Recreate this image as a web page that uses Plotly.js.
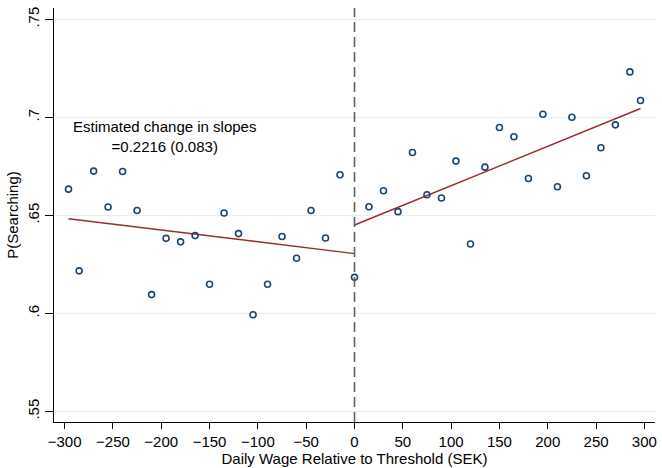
<!DOCTYPE html>
<html>
<head>
<meta charset="utf-8">
<script src="https://cdn.plot.ly/plotly-3.0.1.min.js"></script>
<style>html,body{margin:0;padding:0;background:#fff;}#chart{width:662px;height:468px;}</style>
</head>
<body>
<div id="chart"></div>
<script>
// Binned scatter: daily wage relative to threshold (SEK) vs P(Searching)
const binX = [-296, -285, -270, -255, -240, -225, -210, -195, -180, -165, -150, -135, -120, -105, -90, -75, -60, -45, -30, -15, 0,
              15, 30, 45, 60, 75, 90, 105, 120, 135, 150, 165, 180, 195, 210, 225, 240, 255, 270, 285, 296];
const binY = [0.6634, 0.6217, 0.6726, 0.6543, 0.6724, 0.6525, 0.6096, 0.6383, 0.6365, 0.6397, 0.6149, 0.6512, 0.6407, 0.5993, 0.6149, 0.6392, 0.6281, 0.6525, 0.6385, 0.6707, 0.6184,
              0.6544, 0.6626, 0.6519, 0.6821, 0.6605, 0.6589, 0.6777, 0.6354, 0.6746, 0.6948, 0.6901, 0.6688, 0.7016, 0.6646, 0.7001, 0.6702, 0.6845, 0.6962, 0.7232, 0.7086];

// Fitted lines on each side of the threshold
const fitLeftX = [-296, 0];
const fitLeftY = [0.6483, 0.6305];
const fitRightX = [0, 296];
const fitRightY = [0.6451, 0.7045];

const threshold = 0;

const xTickVals = [-300, -250, -200, -150, -100, -50, 0, 50, 100, 150, 200, 250, 300];
const xTickText = ["\u2212300", "\u2212250", "\u2212200", "\u2212150", "\u2212100", "\u221250", "0", "50", "100", "150", "200", "250", "300"];
const yTickVals = [0.55, 0.6, 0.65, 0.7, 0.75];
const yTickText = [".55", ".6", ".65", ".7", ".75"];

const annotationText = "Estimated change in slopes<br>=0.2216 (0.083)";
const annotationX = -197;
const annotationY = 0.6905;

const FONT = "Liberation Sans, Arial, Helvetica, sans-serif";
const FS = 15;
const fitColor = "#9b2b2f";

const traces = [
  {x: fitLeftX, y: fitLeftY, type: "scatter", mode: "lines", line: {color: fitColor, width: 1.5}, hoverinfo: "skip"},
  {x: fitRightX, y: fitRightY, type: "scatter", mode: "lines", line: {color: fitColor, width: 1.5}, hoverinfo: "skip"},
  {x: binX, y: binY, type: "scatter", mode: "markers",
   marker: {symbol: "circle-open", size: 6, color: "#1a476f", line: {width: 1.6, color: "#1a476f"}}}
];

const layout = {
  width: 662, height: 468,
  margin: {l: 54, r: 7, t: 8, b: 46},
  paper_bgcolor: "#ffffff", plot_bgcolor: "#ffffff",
  showlegend: false,
  font: {family: FONT, size: FS, color: "#000"},
  xaxis: {
    range: [-311, 311], tickvals: xTickVals, ticktext: xTickText,
    showgrid: false, zeroline: false, showline: true, linecolor: "#000", linewidth: 1.2,
    ticks: "outside", ticklen: 6, tickcolor: "#000", tickwidth: 1,
    tickfont: {family: FONT, size: FS, color: "#000"},
    title: {text: "Daily Wage Relative to Threshold (SEK)", font: {family: FONT, size: FS, color: "#000"}, standoff: 2}
  },
  yaxis: {
    range: [0.5446, 0.7558], tickvals: yTickVals, ticktext: yTickText, tickangle: -90,
    showgrid: true, gridcolor: "#e6eef0", gridwidth: 1, zeroline: false,
    showline: true, linecolor: "#000", linewidth: 1.2,
    ticks: "outside", ticklen: 8, tickcolor: "#000", tickwidth: 1,
    tickfont: {family: FONT, size: FS, color: "#000"},
    title: {text: "P(Searching)", font: {family: FONT, size: FS, color: "#000"}, standoff: 2}
  },
  shapes: [
    {type: "line", xref: "x", yref: "paper", x0: threshold, x1: threshold, y0: 0, y1: 1,
     line: {color: "#606060", width: 1.6, dash: "10px,5px"}, layer: "above"}
  ],
  annotations: [
    {x: annotationX, y: annotationY, xref: "x", yref: "y", text: annotationText, showarrow: false,
     align: "center", font: {family: FONT, size: FS, color: "#000"}}
  ]
};

Plotly.newPlot("chart", traces, layout, {displayModeBar: false, staticPlot: true});
</script>
</body>
</html>
